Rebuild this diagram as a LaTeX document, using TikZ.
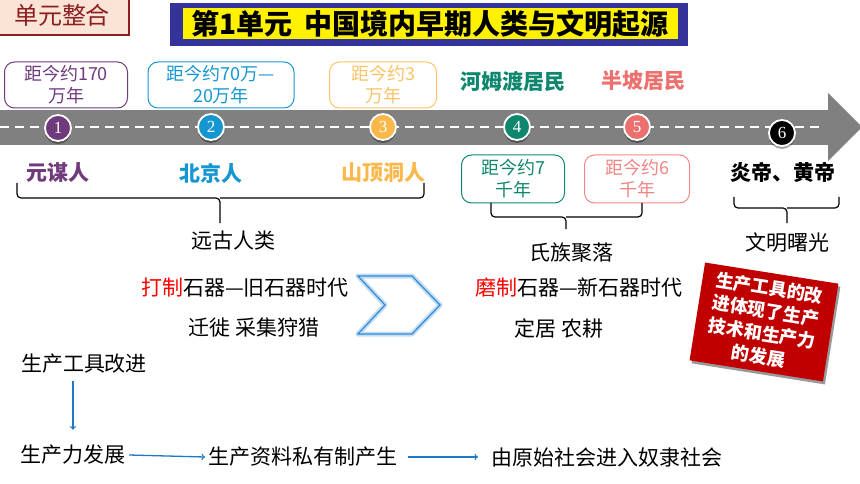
\documentclass[tikz,border=0pt]{standalone}
\usepackage{fontspec}
\setmainfont{Noto Sans CJK SC}
\newfontfamily\numfont{Liberation Serif}
\usetikzlibrary{arrows,shadows}

\begin{document}
\begin{tikzpicture}[x=1pt,y=-1pt,>=to,
  era/.style={draw,rounded corners=10pt,line width=1pt,align=center,inner sep=1pt,minimum height=46pt,font=\fontsize{18}{22}\selectfont},
  dot/.style={circle,draw=white,line width=1.8pt,minimum size=26pt,inner sep=0pt,text=white,font=\numfont\fontsize{17}{17}\selectfont,drop shadow={shadow xshift=0pt,shadow yshift=-3pt,fill=black,opacity=0.35}},
  people/.style={font=\bfseries\fontsize{21}{24}\selectfont},
  txt/.style={font=\fontsize{21}{24}\selectfont},
  brk/.style={line width=1.2pt,rounded corners=4pt},
  flow/.style={->,draw=tl_arrow,line width=1.3pt}]

% ------------------------------------------------ timeline colors
\definecolor{tl_purple}{RGB}{112,58,125}  %#703A7D
\definecolor{tl_blue}{RGB}{22,150,208}    %#1696D0
\definecolor{tl_orange}{RGB}{250,184,75}  %#FAB84B
\definecolor{tl_teal}{RGB}{14,135,110}    %#0E876E
\definecolor{tl_salmon}{RGB}{236,112,110} %#EC706E
\definecolor{tl_road}{RGB}{128,128,128}   %#808080
\definecolor{tl_red}{RGB}{192,0,0}        %#C00000
\definecolor{tl_wine}{RGB}{139,30,30}     %#8B1E1E
\definecolor{tl_pink}{RGB}{251,227,214}   %#FBE3D6
\definecolor{tl_navy}{RGB}{51,51,153}     %#333399
\definecolor{tl_arrow}{RGB}{30,120,200}   %#1E78C8
\definecolor{tl_chev}{RGB}{50,140,215}    %#328CD7

\useasboundingbox (0,0) rectangle (860,484);

% header
\node[draw=tl_wine,fill=tl_pink,line width=2.5pt,minimum width=134pt,minimum height=40pt,text=tl_wine,font=\fontsize{24}{26}\selectfont] (unit) at (62,15) {单元整合};
\fill[tl_navy] (170,3) rectangle (688,46);
\node[fill=yellow,minimum width=495pt,minimum height=31pt,inner sep=0pt,font=\bfseries\fontsize{28}{30}\selectfont] (title) at (430,23.5) {第1单元\ \ 中国境内早期人类与文明起源};

% road
\fill[tl_road] (0,110) rectangle (829,145);
\fill[tl_road] (828,93) -- (862,127) -- (828,161) -- cycle;
\draw[white,line width=1.6pt,dash pattern=on 9pt off 6pt] (0,127) -- (822,127);

% stations
\node[dot,fill=tl_purple] (d1) at (58,128) {1};
\node[dot,fill=tl_blue]   (d2) at (211,127) {2};
\node[dot,fill=tl_orange] (d3) at (383,127) {3};
\node[dot,fill=tl_teal]   (d4) at (517,127) {4};
\node[dot,fill=tl_salmon] (d5) at (637,127) {5};
\node[dot,fill=black]     (d6) at (782,133) {6};

% dates above and below the road
\node[era,draw=tl_purple,text=tl_purple,minimum width=123pt] (age1) at (66,85) {距今约170\\万年};
\node[era,draw=tl_blue,text=tl_blue,minimum width=146pt]     (age2) at (221,85) {距今约70万—\\20万年};
\node[era,draw=tl_orange!85,text=tl_orange!85,minimum width=107pt] (age3) at (383,85) {距今约3\\万年};
\node[era,draw=tl_teal,text=tl_teal,minimum width=103pt,minimum height=48pt]     (age4) at (513,179) {距今约7\\千年};
\node[era,draw=tl_salmon!85,text=tl_salmon!85,minimum width=105pt,minimum height=48pt] (age5) at (637,179) {距今约6\\千年};

\node[people,text=tl_teal]   (hemudu)   at (513,81) {河姆渡居民};
\node[people,text=tl_salmon] (banpo)    at (643,81) {半坡居民};
\node[people,text=tl_purple] (yuanmou)  at (58,173) {元谋人};
\node[people,text=tl_blue]   (beijing)  at (211,173) {北京人};
\node[people,text=tl_orange] (shanding) at (383,173) {山顶洞人};
\node[people,text=black]     (yanhuang) at (783,172) {炎帝、黄帝};

% brackets
\draw[brk] (17,183) -- (17,198) -- (220,198) -- (220,223);
\draw[brk] (220,198) -- (424,198) -- (424,183);
\draw[brk] (491,203) -- (491,217) -- (566,217) -- (566,229);
\draw[brk] (566,217) -- (642,217) -- (642,203);
\draw[brk] (734,197) -- (734,208) -- (787,208) -- (787,223);
\draw[brk] (787,208) -- (839,208) -- (839,197);

\node[txt] (ancient) at (233,241) {远古人类};
\node[txt] (clan)    at (571,253) {氏族聚落};
\node[txt] (dawn)    at (787,243) {文明曙光};

% stone ages
\node[txt] (oldstone) at (245,288) {\textcolor{red}{打制}石器—旧石器时代};
\node[txt] (oldlife)  at (254,328) {迁徙 采集狩猎};
\node[txt] (newstone) at (579,288) {\textcolor{red}{磨制}石器—新石器时代};
\node[txt] (newlife)  at (559,328) {定居 农耕};

\draw[tl_chev!30,line width=5pt,line join=round] (358,276) -- (412,276) -- (440,305) -- (412,334) -- (358,334) -- (385,305) -- cycle;
\draw[tl_chev,line width=1.2pt] (358,276) -- (412,276) -- (440,305) -- (412,334) -- (358,334) -- (385,305) -- cycle;

% note
\node[fill=tl_red,text=white,rotate=-9,align=center,minimum width=135pt,minimum height=99pt,inner sep=2pt,font=\bfseries\fontsize{18}{23}\selectfont,drop shadow={shadow xshift=2pt,shadow yshift=-3pt,fill=black,opacity=0.4}] (note) at (764,322) {生产工具的改\\进体现了生产\\技术和生产力\\的发展};

% chain of causes
\node[txt] (tools)   at (84,364)  {生产工具改进};
\node[txt] (growth)  at (73,455)  {生产力发展};
\node[txt] (private) at (303,457) {生产资料私有制产生};
\node[txt] (society) at (607,457) {由原始社会进入奴隶社会};

\draw[flow,shorten <=4pt,shorten >=12pt] (tools.south -| growth.north) -- (growth.north);
\draw[flow] (growth.east) -- (private.west);
\draw[flow,shorten <=7pt,shorten >=10pt] (private.east) -- (society.west);

\end{tikzpicture}
\end{document}
